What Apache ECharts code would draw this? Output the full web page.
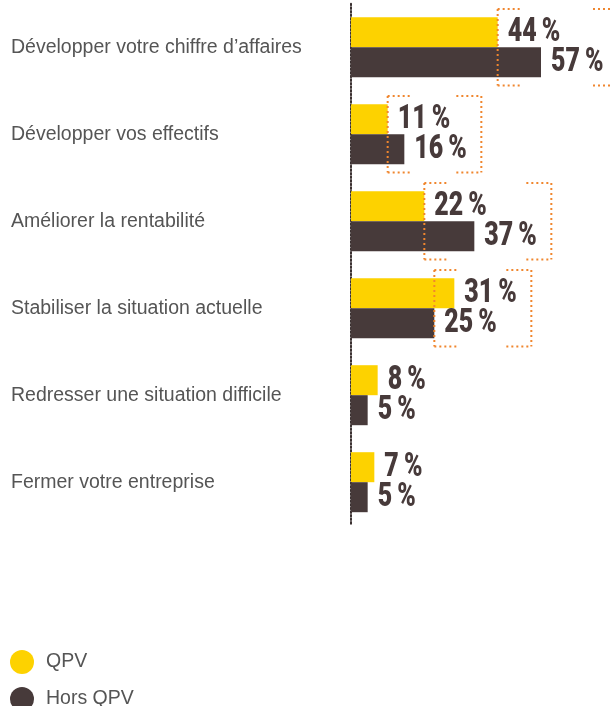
<!DOCTYPE html>
<html>
<head>
<meta charset="utf-8">
<script src="https://cdn.jsdelivr.net/npm/echarts@6/dist/echarts.min.js"></script>
<style>
  html, body { margin: 0; padding: 0; background: #fff; }
</style>
</head>
<body>
<div id="chart" style="width:612px; height:706px;"></div>
<script>
const categories = [
    "Développer votre chiffre d’affaires",
    "Développer vos effectifs",
    "Améliorer la rentabilité",
    "Stabiliser la situation actuelle",
    "Redresser une situation difficile",
    "Fermer votre entreprise"
]
const qpv = [44, 11, 22, 31, 8, 7]
const horsQpv = [57, 16, 37, 25, 5, 5]
// categories that get the orange dotted frame around their labels
const framed = [0, 1, 2, 3]

const yellow = "#FDD200"
const dark = "#473A3A"
const orange = "#F0862E"

let frameData = framed.map(i => [i, Math.min(qpv[i], horsQpv[i]), Math.max(qpv[i], horsQpv[i])])
// [value, category index, -1 for QPV / +1 for Hors QPV]
let labelData = qpv.map((v, i) => [v, i, -1]).concat(horsQpv.map((v, i) => [v, i, 1]))

let myChart = echarts.init(document.getElementById("chart"))
let option = {
    animation: false,
    legend: {
        data: ["QPV", "Hors QPV"],
        orient: "vertical",
        left: 10,
        top: 650,
        height: 120,
        padding: 0,
        icon: "circle",
        itemWidth: 24,
        itemHeight: 24,
        itemGap: 13,
        textStyle: {
            fontFamily: "Liberation Sans",
            fontSize: 19.5,
            color: "#555",
            padding: [0, 0, 0, 7]
        }
    },
    grid: {
        left: 351,
        top: 3.7,
        width: 260,
        height: 522
    },
    xAxis: {
        type: "value",
        min: 0,
        max: 78,
        show: false
    },
    yAxis: {
        type: "category",
        inverse: true,
        data: categories,
        axisTick: { show: false },
        axisLine: {
            lineStyle: {
                color: "#3a3030",
                width: 2,
                type: [1.6, 2]
            }
        },
        axisLabel: {
            align: "left",
            margin: 340,
            fontFamily: "Liberation Sans",
            fontSize: 19.5,
            color: "#555"
        }
    },
    series: [
        {
            name: "QPV",
            type: "bar",
            barWidth: 30,
            barGap: "0%",
            itemStyle: { color: yellow },
            data: qpv
        },
        {
            name: "Hors QPV",
            type: "bar",
            barWidth: 30,
            barGap: "0%",
            itemStyle: { color: dark },
            data: horsQpv
        },
        {
            // condensed heavy value labels
            type: "custom",
            z: 6,
            silent: true,
            encode: { x: 0, y: 1 },
            data: labelData,
            renderItem: (params, api) => {
                let p = api.coord([api.value(0), api.value(1)])
                return {
                    type: "text",
                    x: p[0] + 10,
                    y: p[1] + api.value(2) * 15 + 1,
                    scaleX: 0.78,
                    scaleY: 1.03,
                    style: {
                        text: api.value(0) + "\u2009%",
                        fontFamily: "Roboto",
                        fontWeight: 900,
                        fontSize: 32,
                        fill: dark,
                        textAlign: "left",
                        textVerticalAlign: "middle"
                    }
                }
            }
        },
        {
            type: "custom",
            z: 5,
            silent: true,
            encode: { x: [1, 2], y: 0 },
            data: frameData,
            renderItem: (params, api) => {
                let left = api.coord([api.value(1), api.value(0)])
                let right = api.coord([api.value(2), api.value(0)])
                let half = api.size([0, 1])[1] * 0.44
                let x1 = left[0]
                let x2 = right[0] + 77
                let y1 = left[1] - half
                let y2 = left[1] + half
                let seg = 25
                let style = { stroke: orange, lineWidth: 2, lineDash: [2, 3], fill: null }
                let line = (a, b, c, d) => ({ type: "line", shape: { x1: a, y1: b, x2: c, y2: d }, style: style })
                return {
                    type: "group",
                    children: [
                        line(x1, y1, x1, y2),
                        line(x2, y1, x2, y2),
                        line(x1, y1, x1 + seg, y1),
                        line(x1, y2, x1 + seg, y2),
                        line(x2 - seg, y1, x2, y1),
                        line(x2 - seg, y2, x2, y2)
                    ]
                }
            }
        }
    ]
}
myChart.setOption(option)
</script>
</body>
</html>
